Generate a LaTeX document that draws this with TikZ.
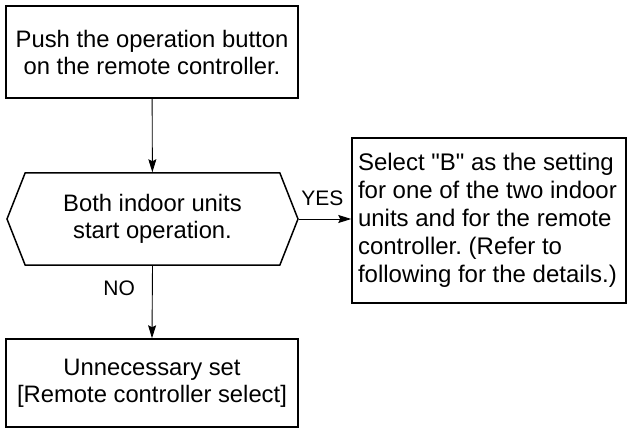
\documentclass[tikz,border=0pt]{standalone}
\usepackage{fontspec}
\setmainfont{Liberation Sans}
\usetikzlibrary{arrows.meta,positioning,shapes.symbols}
\frenchspacing
\newcommand\straightquote{\XeTeXglyph\XeTeXcharglyph"22\relax}
\tikzset{
  stepcard/.style={
    draw=black, line width=1.5pt, align=center, inner sep=0pt,
    font=\fontsize{23.8}{27}\selectfont
  },
  notecard/.style={
    draw=black, line width=1.5pt, align=flush left, inner sep=0pt,
    text width=262pt, font=\fontsize{24}{28}\selectfont
  },
  checkhex/.style={
    draw=black, line width=1.5pt, align=center, inner sep=0pt,
    signal, signal to=west and east, signal pointer angle=137,
    font=\fontsize{23.8}{27}\selectfont
  },
  flowline/.style={draw=black, line width=0.9pt, -{Stealth[length=13pt,width=8pt,inset=2pt]}},
  answer/.style={font=\fontsize{21}{24}\selectfont, inner sep=0pt}
}
\begin{document}
\begin{tikzpicture}[x=1pt,y=-1pt]
  \useasboundingbox (0,0) rectangle (628,430);
  % boxes
  \node[stepcard,minimum width=292pt,minimum height=92pt] (push) at (152,52)
    {Push the operation button\\on the remote controller.};
  \node[checkhex,minimum width=291pt,minimum height=92pt] (check) at (152.5,219)
    {Both indoor units\\start operation.};
  \node[notecard,minimum width=274pt,minimum height=165pt] (select) at (489,220.5)
    {Select \straightquote B\straightquote\ as the setting\\for one of the two indoor\\units and for the remote\\controller. (Refer to\\following for the details.)};
  \node[stepcard,minimum width=292pt,minimum height=88pt] (unneeded) at (152,383)
    {Unnecessary set\\{[}Remote controller select{]}};
  % arrows
  \draw[flowline] (push) -- (check);
  \draw[flowline] (check.east) -- (check.east -| select.west)
    node[answer,pos=0.45,above=13pt] (yes) {YES};
  \draw[flowline] (check.south) -- (unneeded.north)
    node[answer,pos=0.31,left=17pt] (no) {NO};
\end{tikzpicture}
\end{document}
